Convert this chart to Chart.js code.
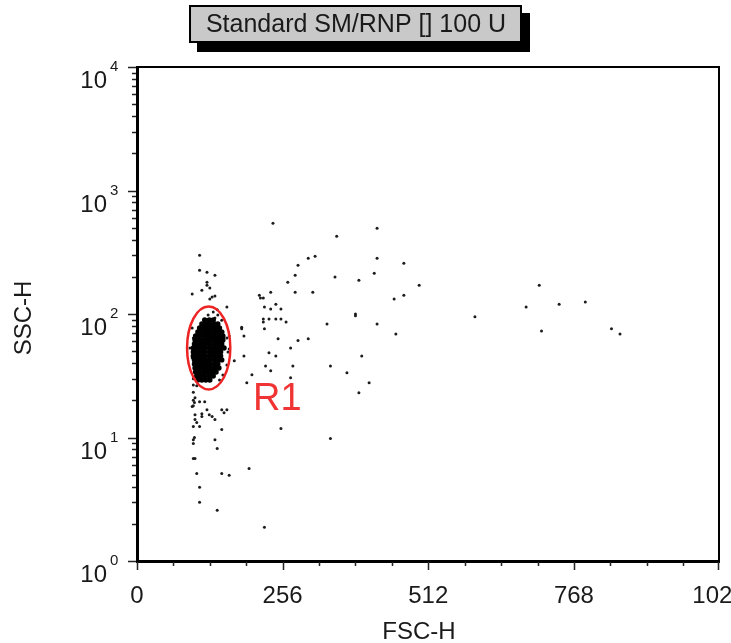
<!DOCTYPE html>
<html>
<head>
<meta charset="utf-8">
<script src="https://cdn.jsdelivr.net/npm/chart.js@4.4.1/dist/chart.umd.min.js"></script>
<style>
  html, body { margin: 0; padding: 0; background: #fff; }
  #wrap { width: 731px; height: 643px; }
</style>
</head>
<body>
<div id="wrap"><canvas id="chart" width="731" height="643"></canvas></div>
<script>
const plotTitle = 'Standard SM/RNP [] 100 U';
const xTitle = 'FSC-H';
const yTitle = 'SSC-H';
const xTicks = [0, 256, 512, 768, 1023];
const yTicks = [1, 10, 100, 1000, 10000];
const yTickExp = ['0', '1', '2', '3', '4'];

// scattered events (FSC-H, SSC-H)
const fsc = [
  239, 422, 351, 422, 313, 301, 469, 283, 278, 348,
  417, 390, 265, 496, 235, 278, 309, 469, 452, 215,
  217, 222, 224, 244, 235, 253, 384, 384, 594, 222,
  222, 232, 244, 253, 262, 334, 422, 184, 224, 188,
  248, 283, 301, 455, 270, 188, 232, 244, 395, 226,
  235, 274, 340, 369, 202, 193, 270, 408, 390, 253,
  340, 707, 684, 742, 788, 711, 834, 849, 110, 110,
  123, 137, 123, 123,  97, 114, 128, 128, 132, 137,
  158, 184, 171, 162, 162, 137,  97,  99,  93,  97,
  102,  99, 151, 158, 160, 158, 151, 145, 134, 141,
  125, 142, 149,  99, 105,  99, 102,  99, 101,  99,
   97, 110, 119, 102, 114, 114, 123, 127, 132, 137,
  102, 105, 149, 153, 158,  99, 110, 149, 101,  99,
   99, 137, 141,  99, 102, 197, 105, 149, 162, 110,
  110, 141, 224
];
const ssc = [
  542, 494, 426, 283, 294, 283, 258, 248, 206, 199,
  214, 188, 181, 171, 150, 150, 150, 142, 132, 142,
  135, 135, 114, 120, 110, 110, 100, 97, 95, 91,
  86, 91, 91, 91, 86, 83, 83, 76, 76, 66.5,
  63, 61, 63, 69, 53, 45.8, 48.5, 45.8, 45.8, 38,
  34.7, 38, 38, 33.4, 32.2, 27.8, 30.5, 27.8, 23, 11.8,
  9.8, 171, 114, 120, 125, 73, 76, 69, 299, 226,
  218, 206, 181, 171, 145, 156, 162, 132, 137, 140,
  114, 78, 41.8, 66.5, 52, 93, 77, 64, 53, 44,
  33.9, 26.6, 71.5, 64, 49.3, 38.6, 32, 29.2, 104, 108,
  98, 98, 89, 29.9, 26.3, 23.2, 21, 20, 19.2, 18.1,
  17.8, 19.5, 19.5, 15.3, 15.6, 14.8, 16.8, 15.3, 14.8, 14,
  14, 13.2, 16.8, 15.9, 16.8, 12.3, 12.3, 11.6, 10, 9.6,
  8.95, 9.6, 8.15, 6.77, 6.77, 5.62, 5.12, 5.12, 4.94, 3.95,
  2.99, 2.58, 1.88
];

// dense lymphocyte core, one SSC level per row
const coreSsc = [89.4, 83, 77, 71.5, 66.4, 61.6, 57.2, 53.1, 49.3, 45.7, 42.5, 39.4, 36.5, 33.9, 31.5, 29.2];
const coreFsc = [
  [119, 127, 134],
  [114, 121, 128, 136, 142],
  [110, 118, 125, 132, 139, 145],
  [107, 114, 121, 128, 136, 142, 149],
  [103, 110, 118, 125, 132, 139, 145, 151],
  [102, 109, 116, 123, 130, 137, 144, 151],
  [101, 107, 114, 121, 128, 136, 142, 149],
  [99, 105, 112, 119, 127, 134, 141, 147, 153],
  [99, 105, 112, 119, 127, 134, 141, 147],
  [99, 105, 112, 119, 127, 134, 141, 147],
  [101, 107, 114, 121, 128, 136, 142, 149],
  [101, 107, 114, 121, 128, 136, 142],
  [102, 109, 116, 123, 130, 137, 144],
  [103, 110, 118, 125, 132, 139],
  [105, 112, 119, 127, 134],
  [107, 114, 121, 128]
];

// R1 gate
const gateFsc = [88, 164];
const gateSsc = [24.5, 115];
const gateLabel = 'R1';
const gateLabelAt = [204, 16.7];

const FONT = '"Liberation Sans", Arial, sans-serif';

const sparsePts = fsc.map((v, i) => ({ x: v, y: ssc[i] }));
const corePts = [];
coreSsc.forEach((y, r) => coreFsc[r].forEach(x => corePts.push({ x, y })));

// frame, ticks, labels, title box and gate drawn on top of the chart
const flowFrame = {
  id: 'flowFrame',
  afterDraw(chart) {
    const c = chart.ctx;
    const { left: L, right: R, top: T, bottom: B } = chart.chartArea;
    const sx = chart.scales.x, sy = chart.scales.y;
    c.save();

    // gate ellipse
    const x0 = sx.getPixelForValue(gateFsc[0]), x1 = sx.getPixelForValue(gateFsc[1]);
    const y0 = sy.getPixelForValue(gateSsc[0]), y1 = sy.getPixelForValue(gateSsc[1]);
    c.strokeStyle = '#ee2424';
    c.lineWidth = 2.5;
    c.beginPath();
    c.ellipse((x0 + x1) / 2, (y0 + y1) / 2, (x1 - x0) / 2, (y0 - y1) / 2, 0, 0, Math.PI * 2);
    c.stroke();

    c.fillStyle = '#f03434';
    c.font = '38px ' + FONT;
    c.textAlign = 'left';
    c.textBaseline = 'alphabetic';
    c.fillText(gateLabel, sx.getPixelForValue(gateLabelAt[0]), sy.getPixelForValue(gateLabelAt[1]));

    // frame
    c.fillStyle = '#000';
    c.fillRect(L - 1, T - 1, 3, B - T + 2);
    c.fillRect(L - 1, B - 1, R - L + 2, 3);
    c.fillRect(L, T - 1, R - L, 2);
    c.fillRect(R - 1, T - 1, 2, B - T);

    // tick marks
    c.strokeStyle = '#222';
    c.lineWidth = 1.5;
    c.beginPath();
    for (let v = 0; v <= 1023; v += 64) {
      const px = Math.round(sx.getPixelForValue(v)) + 0.5;
      const major = v % 256 === 0;
      c.moveTo(px, B + 1);
      c.lineTo(px, B + (major ? 9 : 5));
    }
    const pr = Math.round(sx.getPixelForValue(1023)) - 0.5;
    c.moveTo(pr, B + 1);
    c.lineTo(pr, B + 9);
    for (let d = 1; d <= 1000; d *= 10) {
      for (let m = 1; m <= 9; m++) {
        const py = Math.round(sy.getPixelForValue(d * m)) + 0.5;
        c.moveTo(L - 1, py);
        c.lineTo(L - (m === 1 ? 9 : 5), py);
      }
    }
    const pt = Math.round(sy.getPixelForValue(10000)) + 0.5;
    c.moveTo(L - 1, pt);
    c.lineTo(L - 9, pt);
    c.stroke();

    // tick labels
    c.fillStyle = '#1a1a1a';
    c.font = '24px ' + FONT;
    c.textAlign = 'center';
    c.textBaseline = 'alphabetic';
    xTicks.forEach(v => c.fillText(String(v), sx.getPixelForValue(v), B + 42));
    yTicks.forEach((v, i) => {
      const py = sy.getPixelForValue(v);
      c.font = '24px ' + FONT;
      c.textAlign = 'right';
      c.fillText('10', L - 30, py + 21);
      c.font = '15px ' + FONT;
      c.textAlign = 'left';
      c.fillText(yTickExp[i], L - 27, py + 4);
    });

    // axis titles
    c.font = '24px ' + FONT;
    c.textAlign = 'center';
    c.fillText(xTitle, 419, 639);
    c.save();
    c.translate(24, 318);
    c.rotate(-Math.PI / 2);
    c.textBaseline = 'middle';
    c.fillText(yTitle, 0, 0);
    c.restore();

    // title box with drop shadow
    c.fillStyle = '#000';
    c.fillRect(197, 13, 333, 39);
    c.fillStyle = '#c9c9c9';
    c.fillRect(189, 5, 333, 38);
    c.strokeStyle = '#000';
    c.lineWidth = 2;
    c.strokeRect(190, 6, 331, 36);
    c.fillStyle = '#1a1a1a';
    c.font = '25px ' + FONT;
    c.textAlign = 'center';
    c.textBaseline = 'middle';
    c.fillText(plotTitle, 356, 25);

    c.restore();
  }
};

new Chart(document.getElementById('chart'), {
  type: 'scatter',
  data: {
    datasets: [
      { data: corePts, pointRadius: 2.7, backgroundColor: '#000', borderWidth: 0 },
      { data: sparsePts, pointRadius: 1.5, backgroundColor: '#1c1c1c', borderWidth: 0 }
    ]
  },
  options: {
    responsive: false,
    animation: false,
    devicePixelRatio: 1,
    layout: { autoPadding: false, padding: { top: 67, right: 12, left: 0, bottom: 0 } },
    plugins: { legend: { display: false }, tooltip: { enabled: false } },
    scales: {
      x: {
        type: 'linear', min: 0, max: 1023,
        grid: { display: false }, border: { display: false }, ticks: { display: false },
        afterFit: s => { s.height = 82; }
      },
      y: {
        type: 'logarithmic', min: 1, max: 10000,
        grid: { display: false }, border: { display: false }, ticks: { display: false },
        afterFit: s => { s.width = 137; }
      }
    }
  },
  plugins: [flowFrame]
});
</script>
</body>
</html>
